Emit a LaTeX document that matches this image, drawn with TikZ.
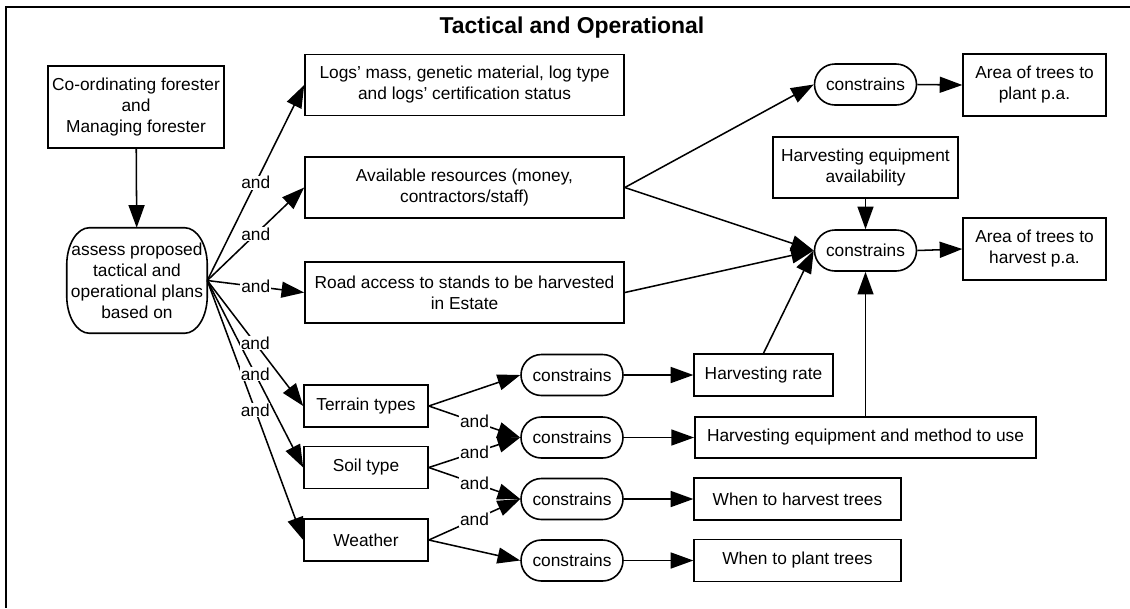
\documentclass[tikz,border=0pt]{standalone}
\usepackage{fontspec}
\setmainfont{Liberation Sans}
\usetikzlibrary{arrows.meta,shapes.misc}
\tikzset{
	txt/.style={font=\fontsize{13}{15.75}\selectfont, align=center, inner sep=0pt},
	box/.style={txt, draw, line width=1.2pt},
	pill/.style={txt, draw, line width=1.2pt, rounded rectangle, minimum width=76.5pt, minimum height=30.75pt},
	wide/.style={box, minimum width=239.25pt, minimum height=45.75pt},
	small/.style={box, minimum width=93pt, minimum height=31.5pt},
	result/.style={box, minimum width=155pt, minimum height=31.5pt},
	area/.style={box, minimum width=107pt, minimum height=46.5pt},
	link/.style={-{Triangle[length=17pt,width=12pt]}, line width=1.15pt},
	andlbl/.style={txt, fill=white, inner sep=0.6pt}
}

\begin{document}
\begin{tikzpicture}[x=0.75pt, y=-0.75pt]
	\useasboundingbox (0,0) rectangle (1130,608);
	% frame runs off the page on the right and at the bottom
	\draw[line width=2.2pt] (1130,7) -- (6,7) -- (6,608);
	\node[txt, font=\bfseries\fontsize{17.2}{20}\selectfont, anchor=base] (title) at (572,33) {Tactical and Operational};

	% who assesses
	\node[box, minimum width=132pt, minimum height=61.5pt] (coord) at (136,107) {Co-ordinating forester\\and\\Managing forester};
	\node[txt, minimum width=105pt, minimum height=78.75pt] (assess) at (137,280.5) {assess proposed\\tactical and\\operational plans\\based on};
	% outline with oval corners
	\draw[line width=1.2pt]
		([xshift=17pt]assess.north west) -- ([xshift=-17pt]assess.north east)
		arc[start angle=90, end angle=0, x radius=17pt, y radius=28pt] -- ([yshift=28pt]assess.south east)
		arc[start angle=0, end angle=-90, x radius=17pt, y radius=28pt] -- ([xshift=17pt]assess.south west)
		arc[start angle=270, end angle=180, x radius=17pt, y radius=28pt] -- ([yshift=-28pt]assess.north west)
		arc[start angle=180, end angle=90, x radius=17pt, y radius=28pt] -- cycle;
	\draw[link] (coord) -- (assess);

	% inputs
	\node[wide] (logs) at (464.5,85) {Logs' mass, genetic material, log type\\and logs' certification status};
	\node[wide] (resources) at (464.5,187.5) {Available resources (money,\\contractors/staff)};
	\node[wide] (road) at (464.5,292.5) {Road access to stands to be harvested\\in Estate};
	\node[small] (terrain) at (366,406) {Terrain types};
	\node[small] (soil) at (366,467.5) {Soil type};
	\node[small] (weather) at (366,540) {Weather};

	% lower constraints
	\foreach \n/\y in {1/375, 2/437.5, 3/499, 4/560.5}
		\node[pill] (con\n) at (572,\y) {constrains};
	\node[box, minimum width=104pt, minimum height=31.5pt] (rate) at (763.5,375) {Harvesting rate};
	\node[box, minimum width=256pt, minimum height=31pt] (method) at (865.5,437.5) {Harvesting equipment and method to use};
	\node[result] (whenharvest) at (797.5,499) {When to harvest trees};
	\node[result] (whenplant) at (797.5,560.5) {When to plant trees};

	% upper constraints
	\node[pill] (conplant) at (865.5,84.5) {constrains};
	\node[pill] (conharvest) at (865.5,250.5) {constrains};
	\node[box, minimum width=139pt, minimum height=45.75pt] (equipment) at (865.5,167.5) {Harvesting equipment\\availability};
	\node[area] (areaplant) at (1034.5,85) {Area of trees to\\plant p.a.};
	\node[area] (areaharvest) at (1034.5,249) {Area of trees to\\harvest p.a.};

	\foreach \to in {logs, resources, road, terrain, soil, weather}
		\draw[link] (assess.east) -- (\to.west);
	\foreach \from/\to in {terrain/con1, terrain/con2, soil/con2, soil/con3, weather/con3, weather/con4,
			con1/rate, con2/method, con3/whenharvest, con4/whenplant,
			resources/conplant, resources/conharvest, road/conharvest,
			conplant/areaplant, conharvest/areaharvest}
		\draw[link] (\from.east) -- (\to.west);
	\draw[link] (rate.north) -- (conharvest.west);
	\draw[link] (method.north) -- (conharvest.south);
	\draw[link] (equipment.south) -- (conharvest.north);

	% "and" labels sit above every line
	\foreach \to in {logs, resources, road, terrain, soil, weather}
		\path (assess.east) -- node[andlbl] {and} (\to.west);
	\foreach \from/\to in {terrain/con2, soil/con2, soil/con3, weather/con3}
		\path (\from.east) -- node[andlbl] {and} (\to.west);
\end{tikzpicture}
\end{document}
